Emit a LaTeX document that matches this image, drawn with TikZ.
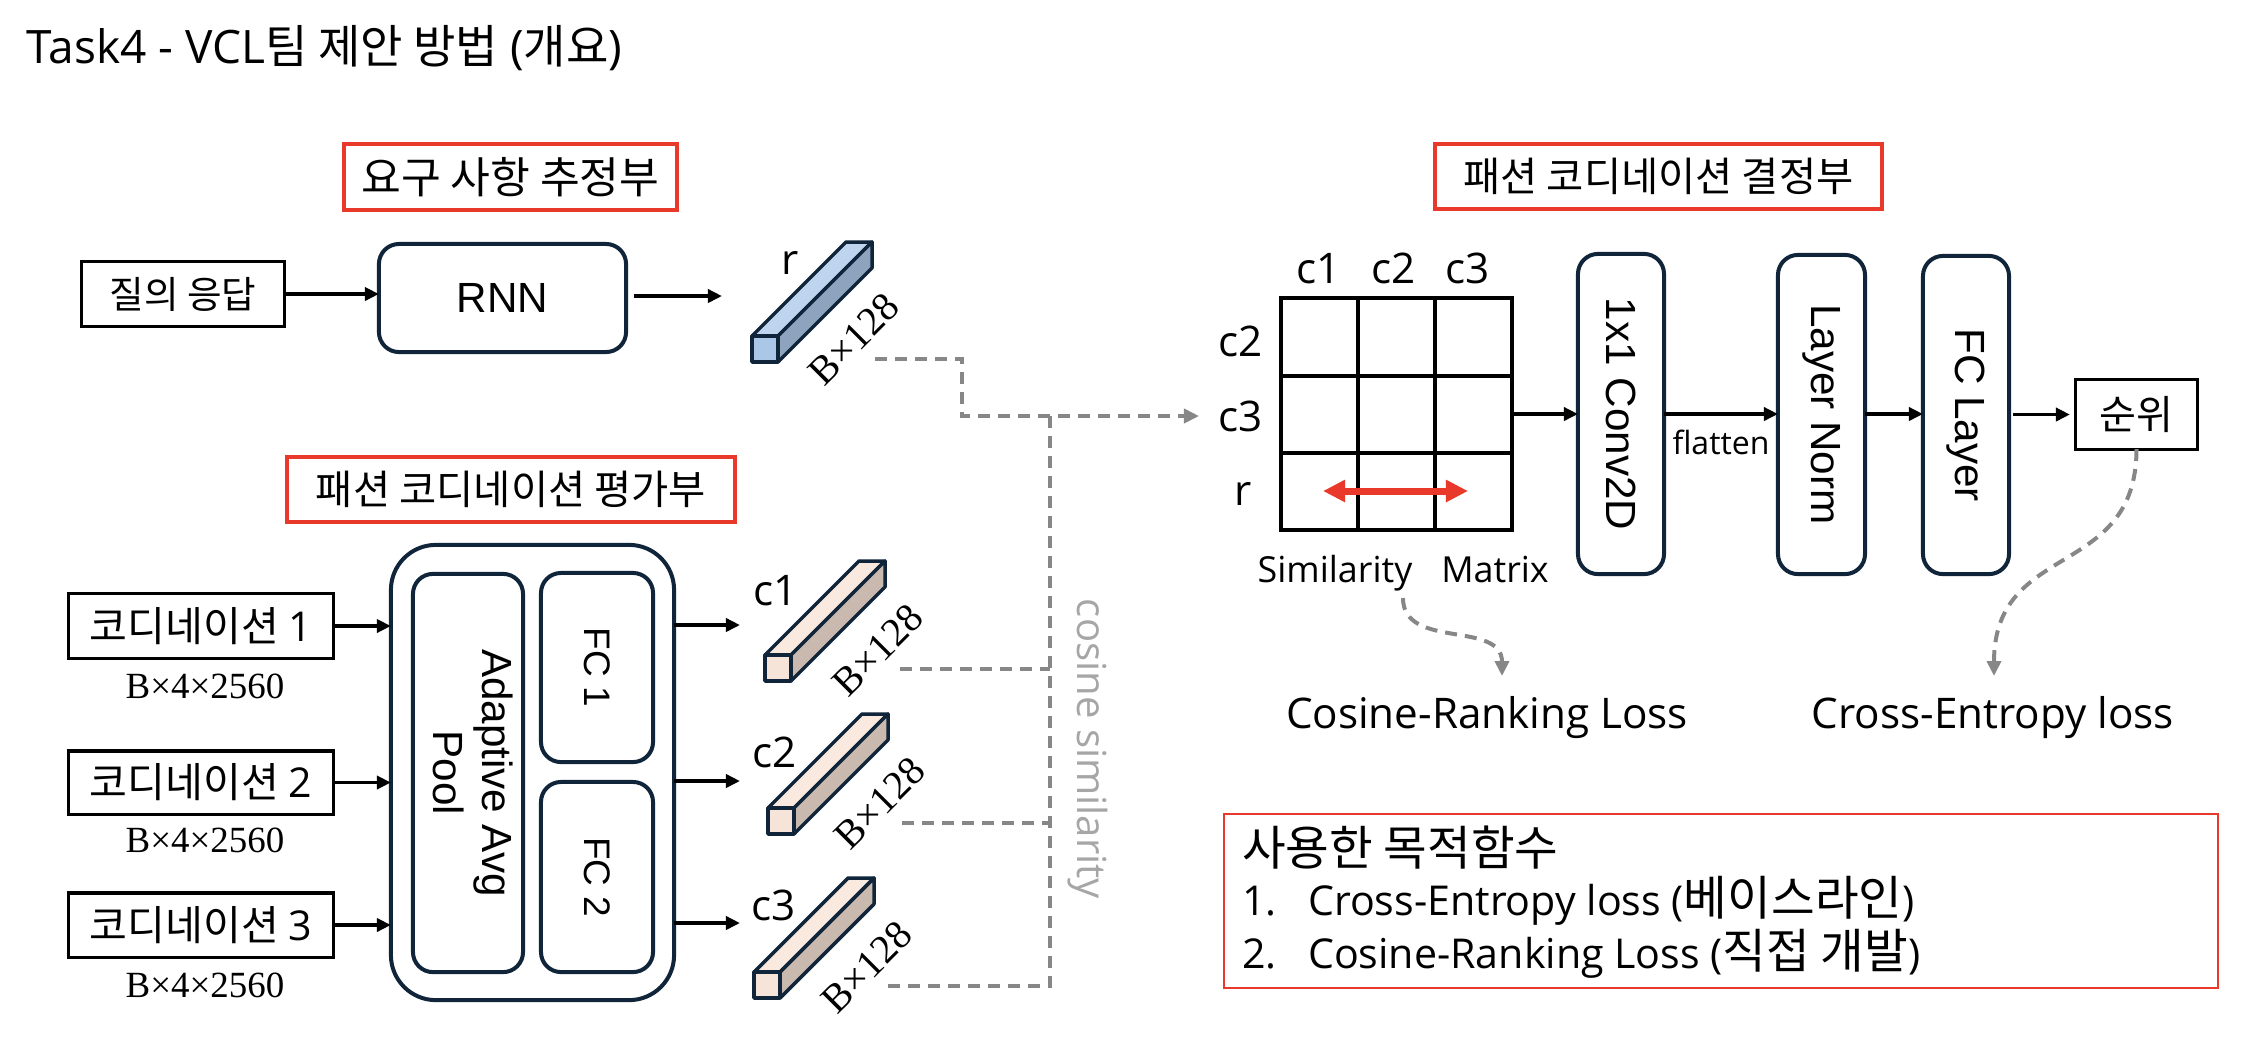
\documentclass[tikz,border=0pt]{standalone}
\usepackage{fontspec}
\usepackage{graphicx}
\setmainfont{Open Sans}
\newfontfamily\kr{Noto Sans CJK KR}
\newfontfamily\ar{Liberation Sans}
\newfontfamily\sr{Liberation Serif}
\usetikzlibrary{arrows.meta}
\newcommand\fsz[1]{\fontsize{#1}{#1}\selectfont}
\definecolor{navy}{HTML}{10243A}
\definecolor{myred}{HTML}{E8392B}
\definecolor{dgray}{HTML}{878787}
\definecolor{lgray}{HTML}{A6A6A6}
\definecolor{rbF}{HTML}{ABC7E8}
\definecolor{rbT}{HTML}{BFD4EE}
\definecolor{rbS}{HTML}{8EA3BD}
\definecolor{cbF}{HTML}{F6E4D8}
\definecolor{cbT}{HTML}{F9E9DE}
\definecolor{cbS}{HTML}{C9B9AE}
\newcommand\mycuboid[3]{%
 \filldraw[cub,fill=#3T] (#1,#2) -- ++(26,0) -- ++(94,-94) -- ++(-26,0) -- cycle;
 \filldraw[cub,fill=#3S] ({#1+26},#2) -- ++(0,26) -- ++(94,-94) -- ++(0,-26) -- cycle;
 \filldraw[cub,fill=#3F] (#1,#2) rectangle ++(26,26);}
\begin{document}
\begin{tikzpicture}[x=0.01cm,y=-0.01cm,
 redbox/.style={draw=myred, line width=0.04cm, inner sep=0, outer sep=0},
 plainbox/.style={draw=black, line width=0.03cm, inner sep=0, outer sep=0},
 rbox/.style={draw=navy, line width=0.04cm, rounded corners=0.2cm, inner sep=0, outer sep=0},
 arr/.style={-{Triangle[length=0.14cm,width=0.13cm]}, line width=0.035cm},
 gdash/.style={draw=dgray, line width=0.04cm, dash pattern=on 0.12cm off 0.08cm},
 garr/.style={gdash, -{Triangle[length=0.15cm,width=0.14cm]}, dgray},
 cub/.style={draw=navy, line width=0.035cm, line join=round},
 txt/.style={inner sep=0, outer sep=0},
 dimlbl/.style={txt, rotate=45, font=\sr\fsz{11.4}},
 clbl/.style={txt, anchor=base, font=\fsz{12}}]
\useasboundingbox (0,0) rectangle (2268,1038);

% title
\node[txt, anchor=base west, font=\fsz{13.1}] (title) at (27,63) {Task4 - VCL{\kr 팀 제안 방법} ({\kr 개요})};

% section boxes
\node[redbox, minimum width=3.33cm, minimum height=0.66cm] (req) at (510.5,177) {\kr\fsz{12.3}요구 사항 추정부};
\node[redbox, minimum width=4.48cm, minimum height=0.65cm] (evl) at (511,489.5) {\kr\fsz{11.5}패션 코디네이션 평가부};
\node[redbox, minimum width=4.47cm, minimum height=0.65cm] (dec) at (1658.5,176.5) {\kr\fsz{11.5}패션 코디네이션 결정부};

% requirement branch
\node[plainbox, minimum width=2.02cm, minimum height=0.64cm] (qa) at (183,294) {\kr\fsz{10.7}질의 응답};
\node[rbox, minimum width=2.47cm, minimum height=1.08cm] (rnn) at (502.5,298) {\ar\fsz{12}RNN};
\coordinate (rin) at (722,296);
\draw[arr] (qa.east) -- (qa.east -| rnn.west);
\draw[arr, shorten <=0.08cm] (rnn.east |- rin) -- (rin);
\mycuboid{752}{336}{rb}
\node[clbl] (rl) at (790,274) {r};
\node[dimlbl] (rdim) at (854,339) {B×128};
\coordinate (rout) at (875,359);

% coordination inputs
\node[plainbox, minimum width=2.64cm, minimum height=0.64cm] (cd1) at (201,626) {\kr\fsz{11.7}코디네이션 {\fontspec{Open Sans}1}};
\node[plainbox, minimum width=2.64cm, minimum height=0.63cm] (cd2) at (201,782.5) {\kr\fsz{11.7}코디네이션 {\fontspec{Open Sans}2}};
\node[plainbox, minimum width=2.64cm, minimum height=0.64cm] (cd3) at (201,925) {\kr\fsz{11.7}코디네이션 {\fontspec{Open Sans}3}};
\node[txt, anchor=base, font=\sr\fsz{10.5}] (d1) at (205,698) {B×4×2560};
\node[txt, anchor=base, font=\sr\fsz{10.5}] (d2) at (205,852) {B×4×2560};
\node[txt, anchor=base, font=\sr\fsz{10.5}] (d3) at (205,997) {B×4×2560};

% encoder
\node[rbox, rounded corners=0.45cm, minimum width=2.83cm, minimum height=4.55cm] (enc) at (532.5,772.5) {};
\node[rbox, minimum width=1.1cm, minimum height=3.98cm] (aap) at (468,773) {\rotatebox{-90}{\ar\fontsize{12}{13.9}\selectfont\begin{tabular}{@{}c@{}}Adaptive Avg\\Pool\end{tabular}}};
\node[rbox, minimum width=1.12cm, minimum height=1.89cm] (fc1) at (597,667.5) {\rotatebox{-90}{\ar\fsz{10.5}FC 1}};
\node[rbox, minimum width=1.12cm, minimum height=1.9cm] (fc2) at (597,877) {\rotatebox{-90}{\ar\fsz{10.5}FC 2}};
\draw[arr] (cd1.east) -- (cd1.east -| enc.west);
\draw[arr] (cd2.east) -- (cd2.east -| enc.west);
\draw[arr] (cd3.east) -- (cd3.east -| enc.west);

% c bars
\coordinate (c1in) at (740,625);
\coordinate (c2in) at (740,781);
\coordinate (c3in) at (740,923);
\draw[arr] (enc.east |- c1in) -- (c1in);
\draw[arr] (enc.east |- c2in) -- (c2in);
\draw[arr] (enc.east |- c3in) -- (c3in);
\mycuboid{765}{655}{cb}
\mycuboid{768}{808}{cb}
\mycuboid{754}{972}{cb}
\node[clbl] (c1l) at (776,605) {c1};
\node[clbl] (c2l) at (775,767) {c2};
\node[clbl] (c3l) at (774,920) {c3};
\node[dimlbl] (c1dim) at (878,650) {B×128};
\node[dimlbl] (c2dim) at (880,803) {B×128};
\node[dimlbl] (c3dim) at (867,967) {B×128};
\coordinate (c1out) at (900,669);
\coordinate (c2out) at (902,823);
\coordinate (c3out) at (888,986);

% similarity matrix
\node[draw, line width=0.04cm, minimum width=2.31cm, minimum height=2.32cm, inner sep=0, outer sep=0] (sim) at (1396.5,414) {};
\draw[line width=0.04cm] (1358,298) -- (1358,530) (1435,298) -- (1435,530)
  (1281,375.5) -- (1512,375.5) (1281,452.5) -- (1512,452.5);
\node[clbl] (mc1) at (1319,283) {c1};
\node[clbl] (mc2) at (1394,283) {c2};
\node[clbl] (mc3) at (1468,283) {c3};
\node[clbl] (mr1) at (1241,356) {c2};
\node[clbl] (mr2) at (1241,431) {c3};
\node[clbl] (mr3) at (1243,505) {r};
\coordinate (da) at (1323,491);
\coordinate (db) at (1468,491);
\draw[{Triangle[length=0.22cm,width=0.21cm]}-{Triangle[length=0.22cm,width=0.21cm]}, line width=0.07cm, myred] (da) -- (db);
\node[txt, anchor=base, font=\fsz{10.2}] (simL) at (1335,582) {Similarity};
\node[txt, anchor=base, font=\fsz{10.2}] (simR) at (1495,582) {Matrix};

% cosine similarity connectors
\coordinate (mIn) at (1199,416);
\draw[garr] (rout) -| (962,416) -- (mIn);
\draw[gdash] (c3out) -| (1050,416);
\draw[gdash] (c1out) -- (1050,669);
\draw[gdash] (c2out) -- (1050,823);
\node[txt, rotate=-90, text=lgray, font=\fsz{11.4}] (cossim) at (1088,749) {cosine similarity};

% decision head
\node[rbox, minimum width=0.86cm, minimum height=3.2cm] (conv) at (1621,414) {\rotatebox{-90}{\ar\fsz{12}1x1 Conv2D}};
\node[rbox, minimum width=0.87cm, minimum height=3.19cm] (ln) at (1821.5,414.5) {\rotatebox{-90}{\ar\fsz{12}Layer Norm}};
\node[rbox, minimum width=0.86cm, minimum height=3.18cm] (fc) at (1966,415) {\rotatebox{-90}{\ar\fsz{12}FC Layer}};
\node[plainbox, minimum width=1.21cm, minimum height=0.69cm] (rank) at (2136.5,414.5) {\kr\fsz{11.4}순위};
\draw[arr] (sim.east) -- (sim.east -| conv.west);
\draw[arr] (conv.east |- sim.east) -- (sim.east -| ln.west);
\node[txt, anchor=base, font=\fsz{9.1}] (flat) at (1721,454) {flatten};
\draw[arr] (ln.east |- sim.east) -- (sim.east -| fc.west);
\draw[arr, shorten <=0.04cm, shorten >=0.06cm] (fc.east |- rank.west) -- (rank.west);

% losses
\node[txt, anchor=base, font=\fsz{12}] (cosL) at (1487,728) {Cosine-Ranking Loss};
\node[txt, anchor=base, font=\fsz{12}] (ceL) at (1993,728) {Cross-Entropy loss};
\coordinate (cs) at (1403,598);
\coordinate (cosTip) at (1502,676);
\coordinate (ceTip) at (1994,676);
\draw[garr] (cs) .. controls (1403,650) and (1502,620) .. (cosTip);
\draw[garr] (rank.south) .. controls (2136.5,580) and (1994,540) .. (ceTip);

% objective box
\node[draw=myred, line width=0.02cm, minimum width=9.94cm, minimum height=1.74cm, inner sep=0, outer sep=0] (obj) at (1721,901) {};
\node[txt, anchor=base west, font=\fsz{11.7}] (o1) at (1242,865) {\kr\fsz{13.5}사용한 목적함수};
\node[txt, anchor=base west, font=\fsz{11.7}] (o2) at (1242,915) {\makebox[0.66cm][l]{1.}Cross-Entropy loss ({\kr\fsz{13.5}베이스라인})};
\node[txt, anchor=base west, font=\fsz{11.7}] (o3) at (1242,968) {\makebox[0.66cm][l]{2.}Cosine-Ranking Loss ({\kr\fsz{13.5}직접 개발})};
\end{tikzpicture}
\end{document}
